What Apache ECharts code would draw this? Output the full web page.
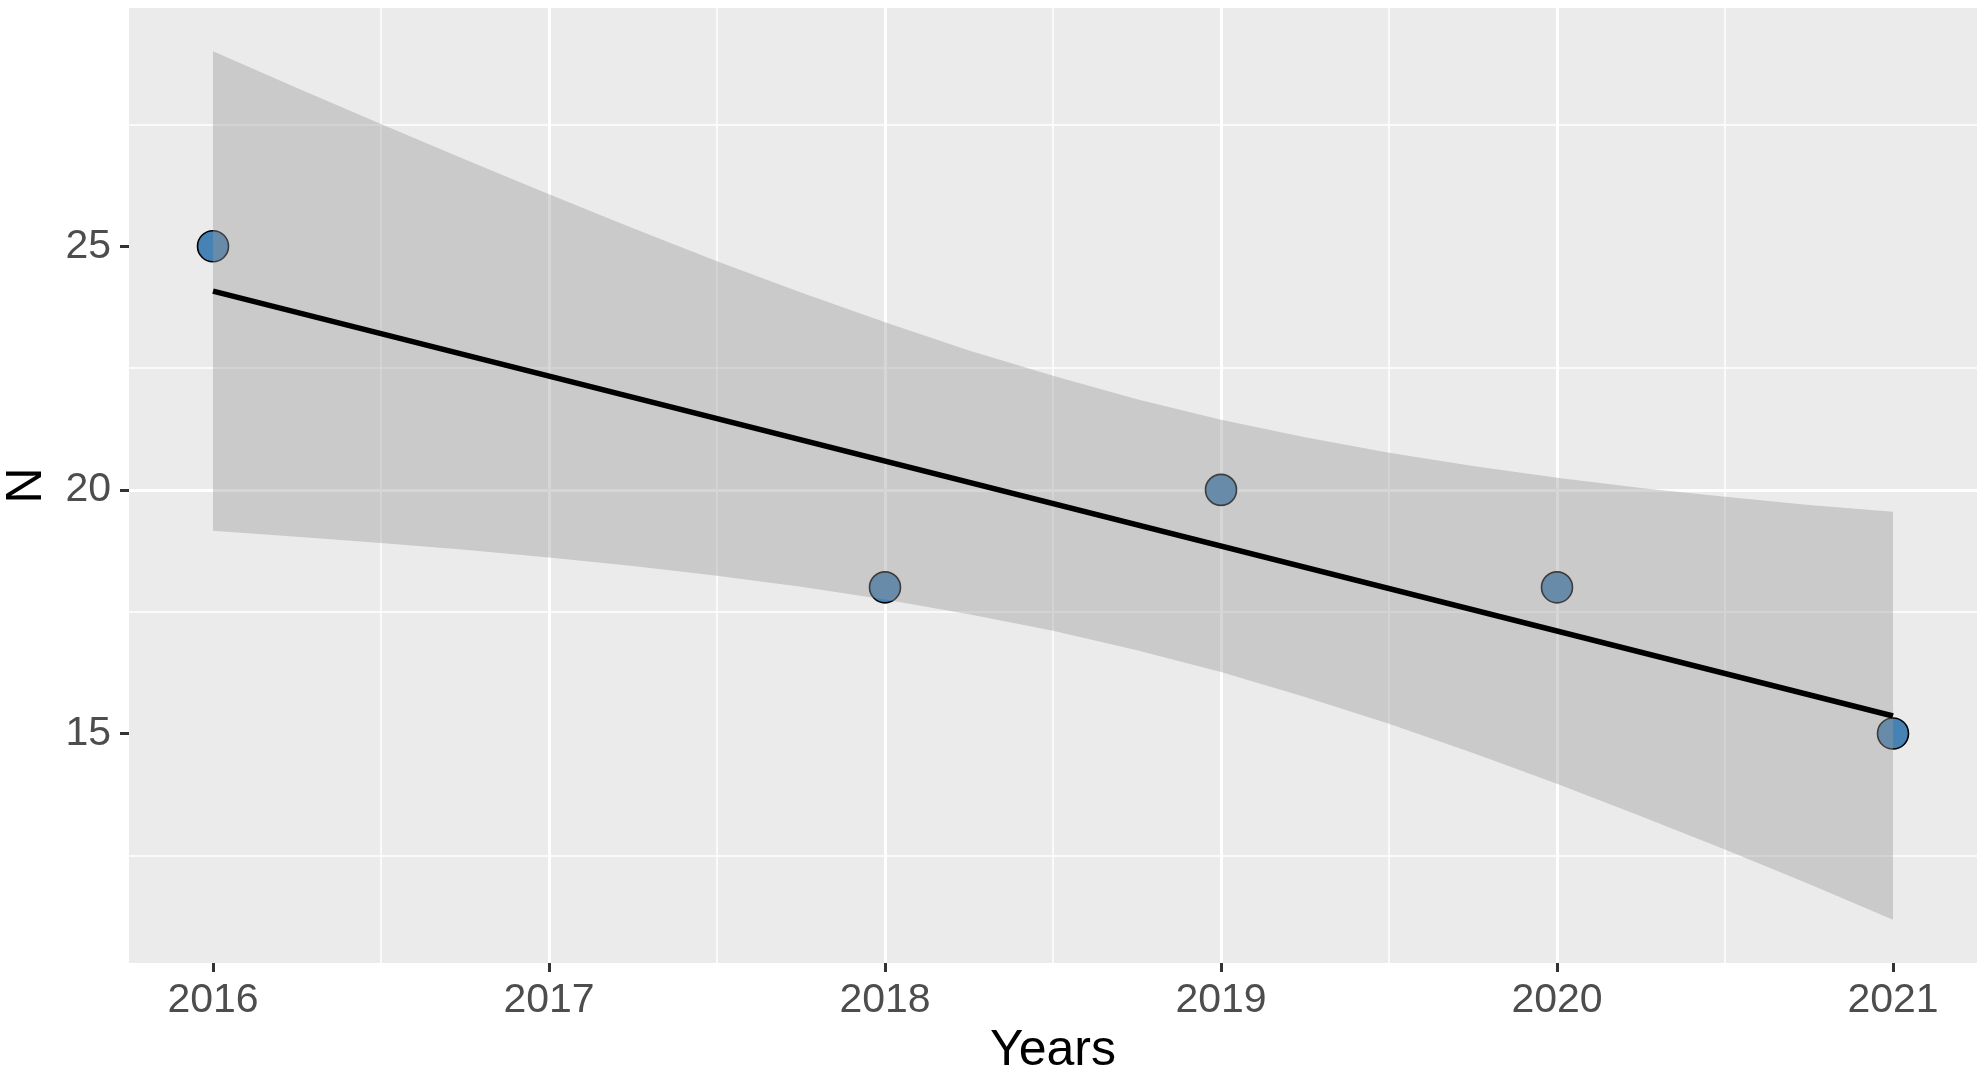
<!DOCTYPE html>
<html>
<head>
<meta charset="utf-8">
<script src="https://cdn.jsdelivr.net/npm/echarts@6/dist/echarts.min.js"></script>
<style>
html,body{margin:0;padding:0;background:#fff;}
#c{width:1986px;height:1076px;}
</style>
</head>
<body>
<div id="c"></div>
<script>
// Observed points
var years = [2016, 2018, 2019, 2020, 2021];
var counts = [25, 18, 20, 18, 15];

// Fitted line
var fitX = [2016, 2021];
var fitY = [24.08, 15.36];

// Confidence band edges
var bandX = [2016, 2016.25, 2016.5, 2016.75, 2017, 2017.25, 2017.5, 2017.75, 2018, 2018.25, 2018.5,
             2018.75, 2019, 2019.25, 2019.5, 2019.75, 2020, 2020.25, 2020.5, 2020.75, 2021];
var bandLower = [19.16, 19.04, 18.91, 18.77, 18.61, 18.44, 18.24, 18.01, 17.75, 17.45, 17.11,
                 16.71, 16.26, 15.75, 15.20, 14.60, 13.97, 13.30, 12.62, 11.91, 11.18];
var bandUpper = [29.00, 28.25, 27.51, 26.78, 26.07, 25.37, 24.69, 24.05, 23.44, 22.86, 22.34,
                 21.86, 21.44, 21.08, 20.76, 20.49, 20.25, 20.04, 19.86, 19.69, 19.55];

// Tick labels
var xTicks = [2016, 2017, 2018, 2019, 2020, 2021];
var yTicks = [15, 20, 25];

var FONT = '"Liberation Sans", Arial, sans-serif';

var chart = echarts.init(document.getElementById('c'), null, {renderer: 'canvas'});

var option = {
  animation: false,
  backgroundColor: '#ffffff',
  grid: {
    left: 129, right: 9, top: 8, bottom: 113,
    outerBoundsMode: 'none',
    containLabel: false,
    show: true, backgroundColor: '#EBEBEB', borderWidth: 0
  },
  xAxis: {
    type: 'value',
    min: 2015.75, max: 2021.25,
    minInterval: 1, maxInterval: 1,
    name: 'Years',
    nameLocation: 'middle',
    nameGap: 60,
    nameTextStyle: {fontSize: 50, color: '#000000', fontFamily: FONT},
    axisLine: {show: false},
    axisTick: {show: true, length: 9, customValues: xTicks, lineStyle: {color: '#333333', width: 3}},
    axisLabel: {
      customValues: xTicks, fontSize: 41, color: '#4D4D4D', margin: 17, fontFamily: FONT,
      formatter: function (v) { return String(v); }
    },
    splitLine: {show: true, showMinLine: false, showMaxLine: false, lineStyle: {color: '#FFFFFF', width: 3}},
    minorTick: {show: false, splitNumber: 2},
    minorSplitLine: {show: true, lineStyle: {color: '#FFFFFF', width: 1.5}}
  },
  yAxis: {
    type: 'value',
    min: 10.29, max: 29.89,
    minInterval: 5, maxInterval: 5,
    name: 'N',
    nameLocation: 'middle',
    nameRotate: 90,
    nameGap: 77,
    nameTextStyle: {fontSize: 50, color: '#000000', fontFamily: FONT},
    axisLine: {show: false},
    axisTick: {show: true, length: 9, customValues: yTicks, lineStyle: {color: '#333333', width: 3}},
    axisLabel: {
      customValues: yTicks, fontSize: 41, color: '#4D4D4D', margin: 18, fontFamily: FONT,
      formatter: function (v) { return String(v); }
    },
    splitLine: {show: true, showMinLine: false, showMaxLine: false, lineStyle: {color: '#FFFFFF', width: 3}},
    minorTick: {show: false, splitNumber: 2},
    minorSplitLine: {show: true, lineStyle: {color: '#FFFFFF', width: 1.5}}
  },
  series: [
    {
      type: 'scatter',
      z: 2,
      symbolSize: 31,
      itemStyle: {color: '#4682B4', borderColor: '#000000', borderWidth: 1.6, opacity: 1},
      data: years.map(function (y, i) { return [y, counts[i]]; })
    },
    {
      type: 'custom',
      z: 3,
      silent: true,
      data: bandX.map(function (x, i) { return [x, bandLower[i], bandUpper[i]]; }),
      encode: {x: 0, y: [1, 2]},
      renderItem: function (params, api) {
        if (params.dataIndex !== 0) { return null; }
        var pts = [];
        var i;
        for (i = 0; i < bandX.length; i++) { pts.push(api.coord([bandX[i], bandUpper[i]])); }
        for (i = bandX.length - 1; i >= 0; i--) { pts.push(api.coord([bandX[i], bandLower[i]])); }
        return {
          type: 'polygon',
          shape: {points: pts},
          style: {fill: 'rgba(153,153,153,0.4)', stroke: null, lineWidth: 0}
        };
      }
    },
    {
      type: 'line',
      z: 4,
      symbol: 'none',
      silent: true,
      lineStyle: {color: '#000000', width: 5.5},
      data: fitX.map(function (x, i) { return [x, fitY[i]]; })
    }
  ]
};

chart.setOption(option);
</script>
</body>
</html>
